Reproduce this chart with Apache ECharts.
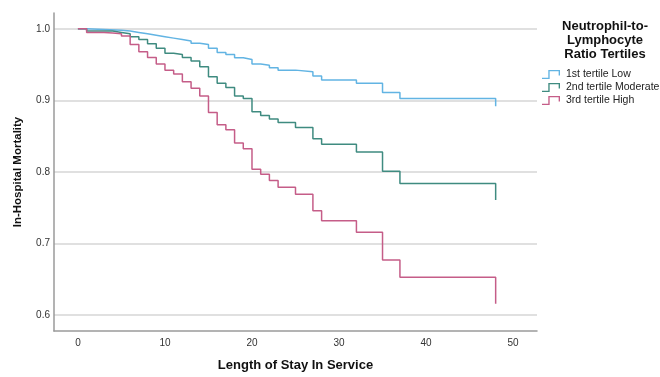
<!DOCTYPE html>
<html>
<head>
<meta charset="utf-8">
<script src="https://cdn.jsdelivr.net/npm/echarts@6/dist/echarts.min.js"></script>
<style>
html,body{margin:0;padding:0;background:#fff;}
#chart{width:660px;height:377px;}
</style>
</head>
<body>
<div id="chart"></div>
<script>
// Kaplan-Meier style step data (day, cumulative value after event)
const seriesNames = ['1st tertile Low', '2nd tertile Moderate', '3rd tertile High'];
const lowDays = [0,1,3,5,6,7,8,9,10,11,12,13,14,15,16,17,18,19,20,21,22,23,25,27,28,32,35,37,48];
const lowVals = [1.000,0.999,0.998,0.997,0.995,0.993,0.991,0.989,0.987,0.985,0.983,0.980,0.978,0.973,0.967,0.964,0.9595,0.957,0.951,0.949,0.9456,0.9423,0.940,0.934,0.9285,0.924,0.911,0.9028,0.8917];
const modDays = [0,1,4,5,6,7,8,9,10,11,12,13,14,15,16,17,18,19,20,21,22,23,25,27,28,32,35,37,48];
const modVals = [1.000,0.997,0.995,0.993,0.989,0.985,0.979,0.973,0.966,0.964,0.960,0.955,0.947,0.933,0.924,0.918,0.906,0.9027,0.884,0.879,0.874,0.869,0.862,0.8465,0.8386,0.828,0.801,0.784,0.761];
const highDays = [0,1,3,4,5,6,7,8,9,10,11,12,13,14,15,16,17,18,19,20,21,22,23,25,27,28,32,35,37,48];
const highVals = [1.000,0.995,0.994,0.993,0.990,0.978,0.968,0.960,0.951,0.942,0.937,0.926,0.917,0.906,0.883,0.866,0.859,0.8405,0.8326,0.804,0.7967,0.788,0.7787,0.769,0.746,0.732,0.716,0.677,0.653,0.616];
const xTickLabels = [0,10,20,30,40,50];
const yTickLabels = [0.6,0.7,0.8,0.9,1.0];

const colors = ['#62b4e3', '#3f8b80', '#c55d88'];
const FONT = 'Liberation Sans, Arial, sans-serif';
const stepIcon = 'path://M0,8.5 L7,8.5 L7,0 L20,0 L20,6 L18.5,6 L18.5,1.5 L8.5,1.5 L8.5,10 L0,10 Z';

function zip(d, v) { return d.map((x, i) => [x, v[i]]); }
const allData = [zip(lowDays, lowVals), zip(modDays, modVals), zip(highDays, highVals)];

const chart = echarts.init(document.getElementById('chart'), null, {renderer: 'canvas'});
chart.setOption({
  backgroundColor: '#ffffff',
  animation: false,
  textStyle: {fontFamily: FONT},
  title: {
    text: 'Neutrophil-to-\nLymphocyte\nRatio Tertiles',
    left: 600, top: 14,
    textAlign: 'center',
    textStyle: {fontFamily: FONT, fontSize: 13, fontWeight: 'bold', color: '#111', lineHeight: 14}
  },
  legend: {
    orient: 'vertical',
    left: 537, top: 64,
    itemWidth: 20, itemHeight: 9, itemGap: 2,
    icon: stepIcon,
    textStyle: {fontFamily: FONT, fontSize: 10.5, color: '#222'},
    data: seriesNames
  },
  grid: {left: 54, right: 123, top: 13, bottom: 43, containLabel: false},
  xAxis: {
    type: 'value',
    min: -2.75, max: 52.75,
    name: 'Length of Stay In Service',
    nameLocation: 'middle', nameGap: 28,
    nameTextStyle: {fontFamily: FONT, fontSize: 13, fontWeight: 'bold', color: '#111'},
    axisLine: {show: true, onZero: false, lineStyle: {color: '#9a9a9a', width: 1.5}},
    axisTick: {show: false},
    splitLine: {show: false},
    axisLabel: {
      fontFamily: FONT, fontSize: 10, color: '#333', margin: 7,
      showMinLabel: false, showMaxLabel: false,
      formatter: v => xTickLabels.indexOf(Math.round(v)) >= 0 && Math.abs(v - Math.round(v)) < 1e-6 ? String(Math.round(v)) : ''
    }
  },
  yAxis: {
    type: 'value',
    min: 0.5779, max: 1.0221,
    name: 'In-Hospital Mortality',
    nameLocation: 'middle', nameGap: 30,
    nameTextStyle: {fontFamily: FONT, fontSize: 11.5, fontWeight: 'bold', color: '#111'},
    axisLine: {show: true, onZero: false, lineStyle: {color: '#9a9a9a', width: 1.5}},
    axisTick: {show: false},
    splitLine: {show: true, showMinLine: false, showMaxLine: false, lineStyle: {color: '#d6d6d6', width: 1.5}},
    axisLabel: {
      fontFamily: FONT, fontSize: 10, color: '#333', margin: 4,
      showMinLabel: false, showMaxLabel: false,
      formatter: v => yTickLabels.some(t => Math.abs(t - v) < 1e-6) ? v.toFixed(1) : ''
    }
  },
  series: seriesNames.map((n, i) => ({
    name: n,
    type: 'line',
    step: 'end',
    symbol: 'none',
    color: colors[i],
    lineStyle: {width: 1.5, color: colors[i]},
    itemStyle: {color: colors[i]},
    data: allData[i],
    z: 3 + i
  }))
});
</script>
</body>
</html>
